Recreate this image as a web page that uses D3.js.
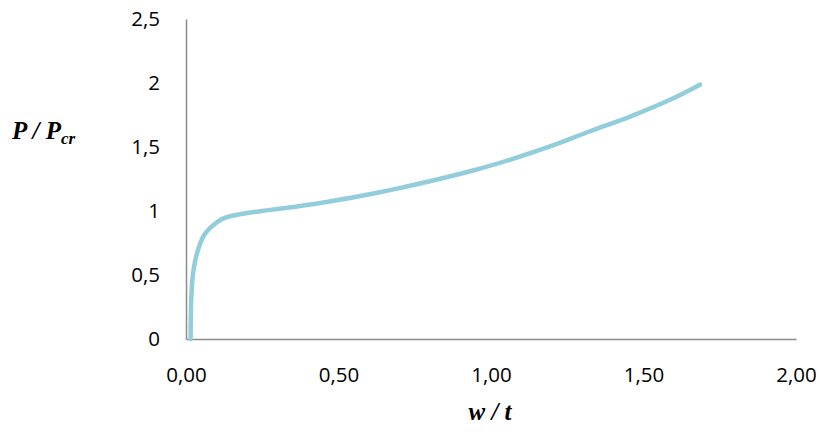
<!DOCTYPE html>
<html><head><meta charset="utf-8">
<script src="https://cdn.jsdelivr.net/npm/d3@7/dist/d3.min.js"></script>
<style>body{margin:0;background:#fff}svg{display:block}</style>
</head><body>
<script>
const wt = [0.015, 0.017, 0.026, 0.04, 0.065, 0.095, 0.138, 0.2, 0.265, 0.36, 0.456, 0.58, 0.7, 0.82, 0.947, 1.07, 1.193, 1.325, 1.456, 1.587, 1.685];
const ppcr = [0, 0.3, 0.56, 0.7, 0.83, 0.9, 0.955, 0.985, 1.005, 1.034, 1.069, 1.121, 1.179, 1.244, 1.32, 1.406, 1.504, 1.623, 1.738, 1.869, 1.987];
const xTicks = [0, 0.5, 1, 1.5, 2];
const yTicks = [0, 0.5, 1, 1.5, 2, 2.5];

const W = 820, H = 432;
const svg = d3.select("body").append("svg").attr("width", W).attr("height", H);
const x = d3.scaleLinear().domain([0, 2]).range([186, 796]);
const y = d3.scaleLinear().domain([0, 2.5]).range([339, 19]);
const fmtX = d => d3.format(".2f")(d).replace(".", ",");
const fmtY = d => String(d).replace(".", ",");
const font = "'Open Sans', sans-serif";

// axes
const xAxis = svg.append("g").attr("transform", `translate(0,${y(0)})`)
  .call(d3.axisBottom(x).tickValues(xTicks).tickFormat(fmtX).tickSize(0).tickPadding(28));
const yAxis = svg.append("g").attr("transform", `translate(${x(0)},0)`)
  .call(d3.axisLeft(y).tickValues(yTicks).tickFormat(fmtY).tickSize(0).tickPadding(26));
[xAxis, yAxis].forEach(g => {
  g.select(".domain").attr("stroke", "#8c8c8c").attr("stroke-width", 1.5);
  g.selectAll("text").attr("font-family", font).attr("font-size", 20.5).attr("fill", "#000");
});

// line
const pts = wt.map((d, i) => [d, ppcr[i]]);
svg.append("path").datum(pts)
  .attr("fill", "none").attr("stroke", "#92cddc").attr("stroke-width", 4.5)
  .attr("stroke-linecap", "round").attr("stroke-linejoin", "round")
  .attr("d", d3.line().x(d => x(d[0])).y(d => y(d[1])).curve(d3.curveMonotoneY));

// axis titles
const titleFont = "'Liberation Serif', 'DejaVu Serif', serif";
const yt = svg.append("text").attr("x", 12).attr("y", 139)
  .attr("font-family", titleFont).attr("font-weight", "bold").attr("font-style", "italic")
  .attr("font-size", 25).attr("fill", "#000");
yt.append("tspan").text("P / P");
yt.append("tspan").attr("font-size", 17).attr("dy", 5).text("cr");
svg.append("text").attr("x", 490).attr("y", 420).attr("text-anchor", "middle")
  .attr("font-family", titleFont).attr("font-weight", "bold").attr("font-style", "italic")
  .attr("font-size", 25).attr("fill", "#000").text("w / t");
</script>
</body></html>
